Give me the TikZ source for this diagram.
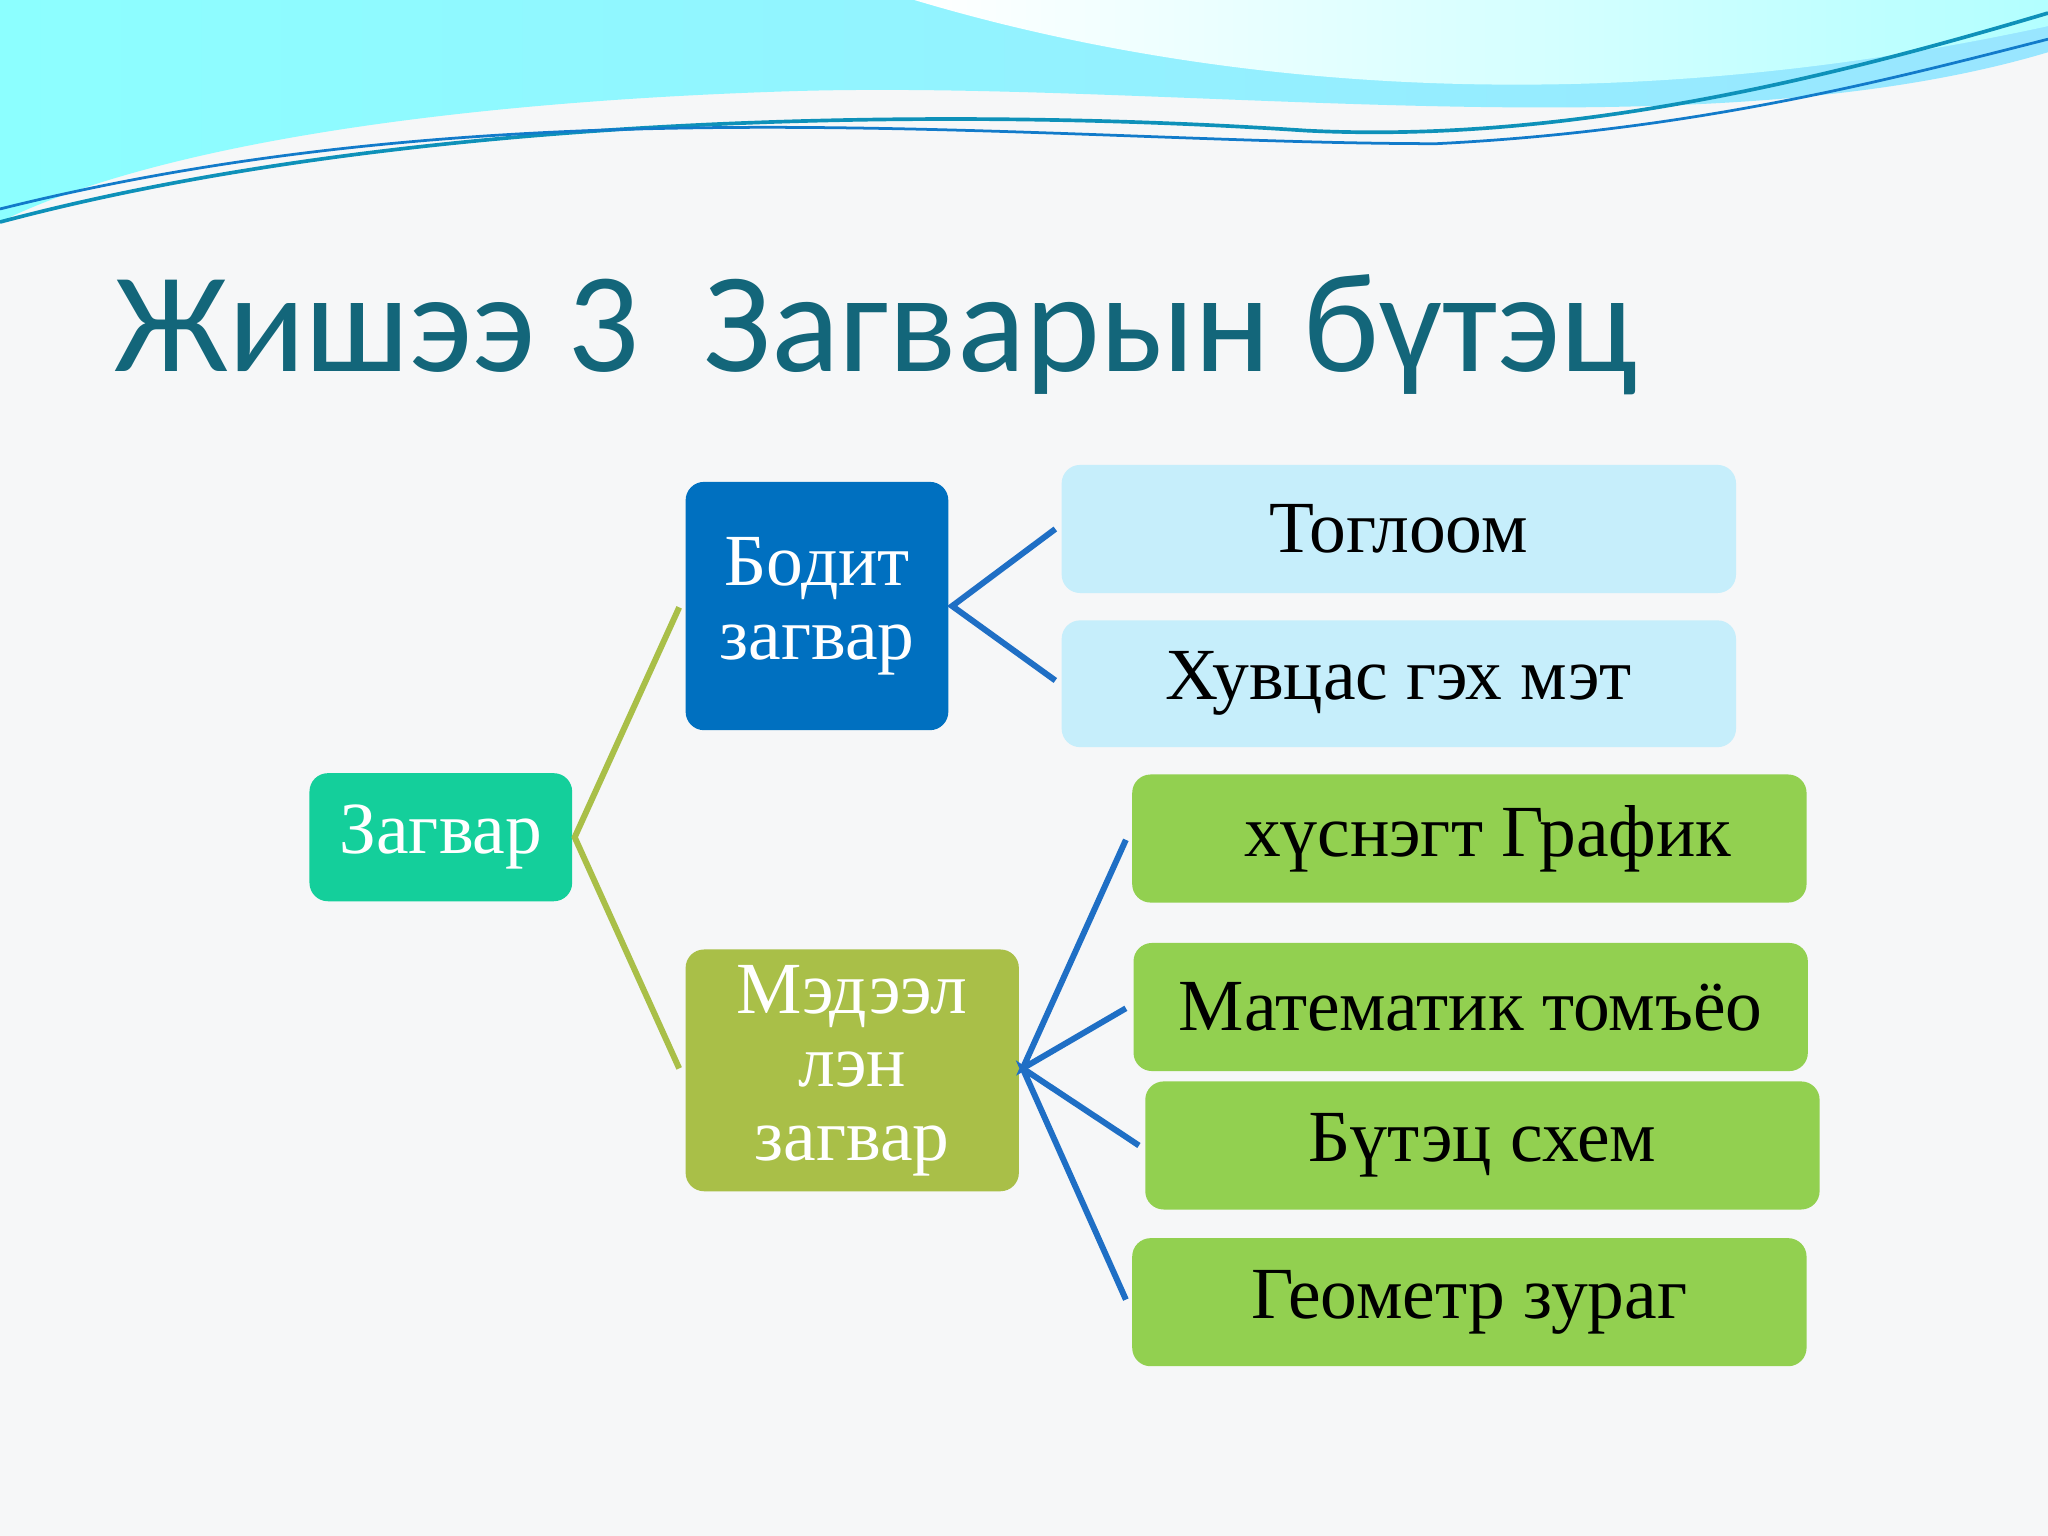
\documentclass[tikz,border=0pt]{standalone}
\usepackage{fontspec}
\setmainfont{Liberation Serif}
\newfontfamily\titlefont{Carlito}
\begin{document}
\begin{tikzpicture}[x=0.01cm,y=-0.01cm,
  box/.style={rounded corners=4pt,inner sep=0pt,align=center,font=\fontsize{16}{16}\selectfont},
  con/.style={line width=1.3pt}]
\definecolor{bg}{HTML}{F6F7F8}
\definecolor{teal}{HTML}{14CF9B}
\definecolor{dblue}{HTML}{0070C0}
\definecolor{olive}{HTML}{A9BF48}
\definecolor{lcyan}{HTML}{C6EEFB}
\definecolor{lgreen}{HTML}{92D050}
\definecolor{ttl}{HTML}{13667A}
\definecolor{lineb}{HTML}{1F6FC5}
\useasboundingbox (0,0) rectangle (1568,1176);
\fill[bg] (0,0) rectangle (1568,1176);
% top waves
\shade[left color=cyan!45,right color=blue!25!cyan!40] (0,0) -- (1568,0) -- (1568,40) .. controls (1300,120) and (900,60) .. (600,70) .. controls (300,80) and (100,120) .. (0,170) -- cycle;
\shade[left color=white,right color=cyan!30] (700,0) .. controls (900,60) and (1200,100) .. (1568,20) -- (1568,0) -- cycle;
\draw[teal!70!blue,line width=0.8pt] (0,170) .. controls (300,90) and (700,80) .. (1000,100) .. controls (1200,110) and (1400,60) .. (1568,10);
\draw[cyan!60!blue,line width=0.6pt] (0,160) .. controls (400,60) and (800,110) .. (1100,110) .. controls (1300,100) and (1450,60) .. (1568,30);
\node[anchor=west,text=ttl,font=\titlefont\fontsize{31}{34}\selectfont] (title) at (75,256) {Жишээ 3\ \ Загварын бүтэц};
% boxes
\node[box,fill=teal,text=white,minimum width=2.01cm,minimum height=0.98cm] (z) at (337.5,641) {Загвар};
\node[box,fill=dblue,text=white,minimum width=2.01cm,minimum height=1.90cm] (b) at (625.5,464) {Бодит\\загвар};
\node[box,fill=olive,text=white,minimum width=2.55cm,minimum height=1.85cm] (m) at (652.5,819.5) {Мэдээл\\лэн\\загвар};
\node[box,fill=lcyan,minimum width=5.16cm,minimum height=0.98cm] (t1) at (1071,405) {Тоглоом};
\node[box,fill=lcyan,minimum width=5.16cm,minimum height=0.97cm] (t2) at (1071,523.5) {Хувцас гэх мэт};
\node[box,fill=lgreen,minimum width=5.16cm,minimum height=0.98cm] (g1) at (1125,642) {\ \ хүснэгт График};
\node[box,fill=lgreen,minimum width=5.16cm,minimum height=0.98cm] (g2) at (1126,771) {Математик томъёо};
\node[box,fill=lgreen,minimum width=5.16cm,minimum height=0.98cm] (g3) at (1135,877) {Бүтэц схем};
\node[box,fill=lgreen,minimum width=5.16cm,minimum height=0.98cm] (g4) at (1125,997) {Геометр зураг};
% connectors
\coordinate (zo) at (440,641);
\coordinate (zb) at (520,465);
\coordinate (zm) at (520,818);
\coordinate (bo) at (729,464);
\coordinate (b1) at (808,405);
\coordinate (b2) at (808,521);
\coordinate (mo) at (783,818);
\coordinate (m1) at (862,643);
\coordinate (m2) at (862,772);
\coordinate (m3) at (872,877);
\coordinate (m4) at (862,995);
\draw[con,olive] (zb) -- (zo) -- (zm);
\draw[con,lineb] (b1) -- (bo) -- (b2);
\draw[con,lineb] (m1) -- (mo) -- (m2);
\draw[con,lineb] (m3) -- (mo) -- (m4);
\end{tikzpicture}
\end{document}
